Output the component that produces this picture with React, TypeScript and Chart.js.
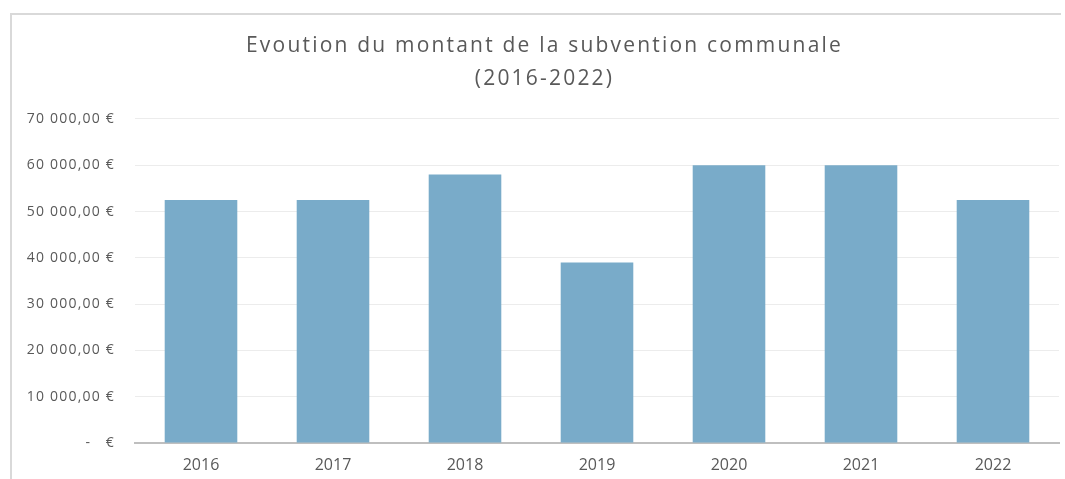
import React, { useEffect, useRef } from "react";
import { Chart, registerables } from "chart.js";

Chart.register(...registerables);

const categories = ["2016", "2017", "2018", "2019", "2020", "2021", "2022"];
const subventionValues = [52500, 52500, 58000, 39000, 60000, 60000, 52500];
const titleLines = ["Evoution du montant de la subvention communale", "(2016-2022)"];
const yMax = 70000;
const yStep = 10000;

function formatEuro(v: number): string {
  if (v === 0) return "-   €";
  const s = Math.round(v).toString().replace(/\B(?=(\d{3})+(?!\d))/g, " ");
  return s + ",00 €";
}

function withSpacing(fn: any, spacing: string, dx: number) {
  if (fn.__spaced) return fn;
  const wrapped = function (this: any, ...args: any[]) {
    const ctx = this.ctx;
    ctx.save();
    ctx.letterSpacing = spacing;
    ctx.translate(dx, 0);
    try {
      return fn.apply(this, args);
    } finally {
      ctx.restore();
    }
  };
  (wrapped as any).__spaced = true;
  return wrapped;
}

const spacingPlugin = {
  id: "spacingPlugin",
  afterLayout(chart: any) {
    if (chart.titleBlock) chart.titleBlock.draw = withSpacing(chart.titleBlock.draw, "2.2px", 15);
    const y = chart.scales.y;
    if (y) y.drawLabels = withSpacing(y.drawLabels, "1.2px", 0);
  },
};

export default function App() {
  const ref = useRef<HTMLCanvasElement | null>(null);
  useEffect(() => {
    if (!ref.current) return;
    const font = "'Open Sans', sans-serif";
    const chart = new Chart(ref.current, {
      type: "bar",
      data: {
        labels: categories,
        datasets: [
          {
            data: subventionValues,
            backgroundColor: "#79abc9",
            borderWidth: 0,
            categoryPercentage: 1,
            barPercentage: 0.55,
          },
        ],
      },
      plugins: [spacingPlugin],
      options: {
        animation: false,
        responsive: false,
        maintainAspectRatio: false,
        layout: { padding: { left: 0, right: 6, top: 0, bottom: 0 } },
        plugins: {
          legend: { display: false },
          tooltip: { enabled: false },
          title: {
            display: true,
            text: titleLines,
            color: "#595959",
            font: { family: font, size: 21, weight: "normal", lineHeight: 1.571 },
            padding: { top: 30, bottom: 23 },
          },
        },
        scales: {
          x: {
            grid: { display: false, drawTicks: false },
            border: { display: true, color: "#bfbfbf", width: 2 },
            ticks: { color: "#595959", font: { family: font, size: 16 }, padding: 13 },
            afterFit: (s: any) => {
              s.height = 36;
            },
          },
          y: {
            min: 0,
            max: yMax,
            grid: { color: "#ececec", lineWidth: 1, drawTicks: false },
            border: { display: false },
            ticks: {
              stepSize: yStep,
              color: "#595959",
              font: { family: font, size: 14 },
              padding: 20,
              callback: (v: any) => formatEuro(Number(v)),
            },
            afterFit: (s: any) => {
              s.width = 135;
            },
          },
        },
      },
    });
    return () => chart.destroy();
  }, []);
  return (
    <div style={{ position: "fixed", left: 0, top: 0, width: 1065, height: 479, background: "#fff" }}>
      <div
        style={{
          position: "absolute",
          left: 10,
          top: 13,
          width: 1049,
          height: 480,
          borderTop: "2px solid #d9d9d9",
          borderLeft: "2px solid #d9d9d9",
        }}
      />
      <canvas ref={ref} width={1065} height={479} style={{ position: "absolute", left: 0, top: 0 }} />
    </div>
  );
}
